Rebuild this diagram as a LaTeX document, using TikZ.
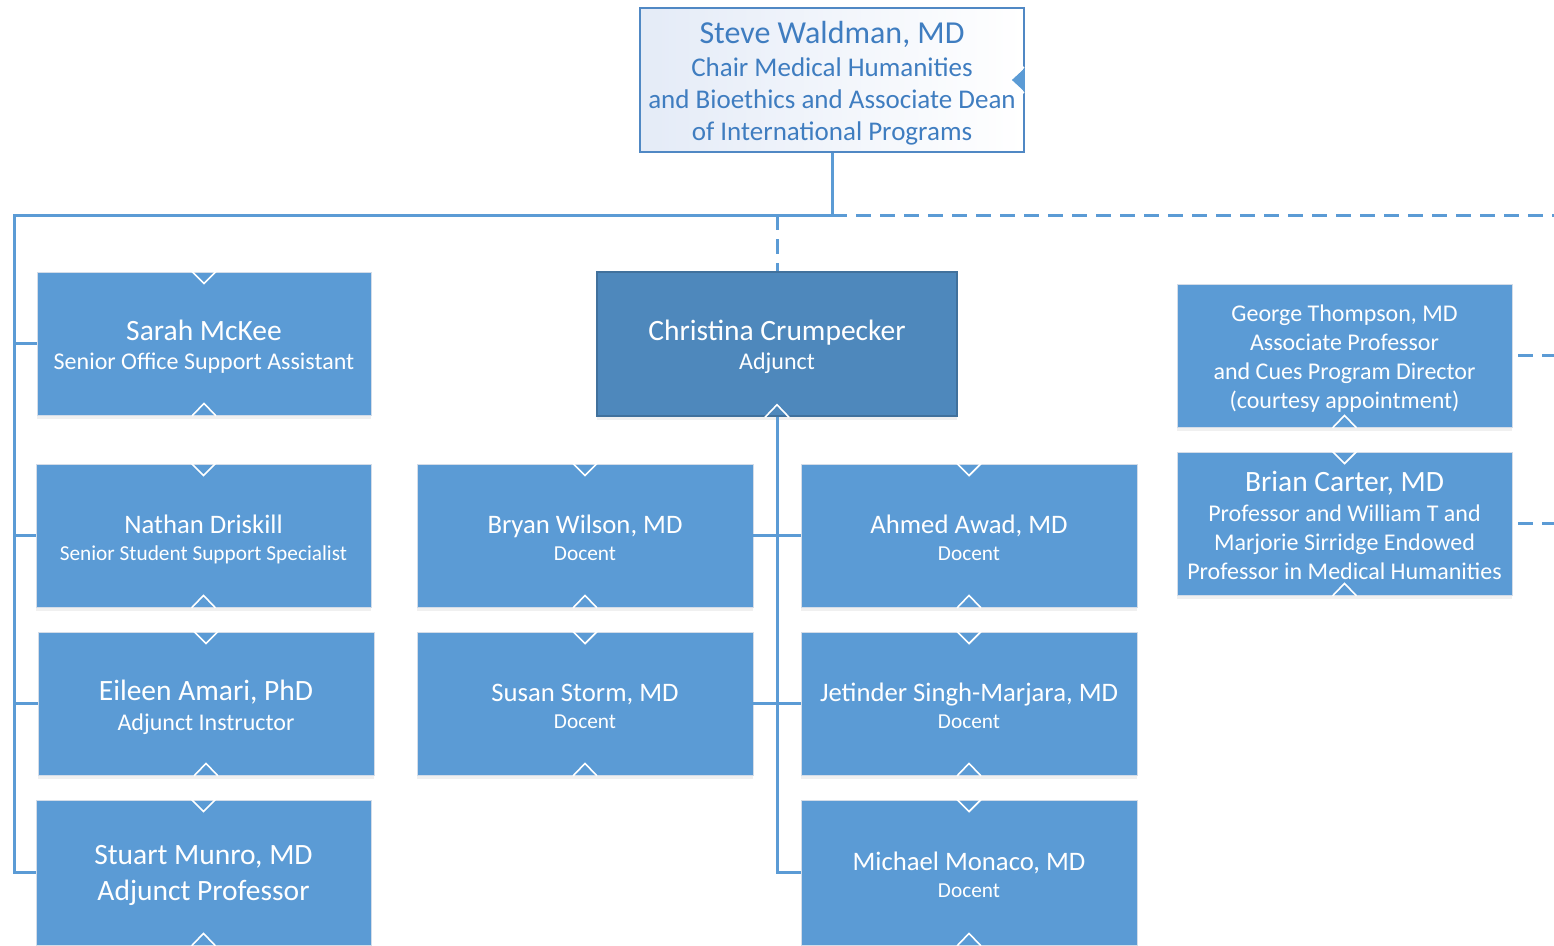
\documentclass[tikz,border=0pt]{standalone}
\usepackage{fontspec}
\setmainfont{Carlito}
\usetikzlibrary{shadows}
\definecolor{boxblue}{HTML}{5B9BD5}
\definecolor{darkbox}{HTML}{4E88BC}
\definecolor{darkedge}{HTML}{41719C}
\definecolor{edgegray}{HTML}{D3DCE8}
\definecolor{linkblue}{HTML}{5B9BD5}
\definecolor{topedge}{HTML}{5088C4}
\definecolor{toptext}{HTML}{3F7DC0}
\definecolor{topshade}{HTML}{E4EBF7}
% text line: size, depth, total strut height, text
\newcommand{\tl}[4]{{\fontsize{#1pt}{#1pt}\selectfont\rule[-#2pt]{0pt}{#3pt}#4}}
\newcommand{\nmA}[1]{\tl{29.5}{7}{35}{#1}}
\newcommand{\nmB}[1]{\tl{26.7}{7}{35}{#1}}
\newcommand{\subA}[1]{\tl{24}{6}{27}{#1}}
\newcommand{\subB}[1]{\tl{21.3}{5}{24}{#1}}
\tikzset{
  pbox/.style={draw=edgegray, line width=0.8pt, fill=boxblue, text=white, align=center,
     inner sep=0pt, minimum width=335pt, minimum height=143pt,
     font=\fontsize{1pt}{1pt}\selectfont,
     drop shadow={opacity=0.12, shadow xshift=0pt, shadow yshift=-4pt}},
  link/.style={draw=linkblue, line width=3pt},
  dlink/.style={draw=linkblue, line width=3pt, dash pattern=on 15pt off 9pt},
  notch/.style={draw=white, line width=1.6pt, line join=miter},
}
\begin{document}
\begin{tikzpicture}[x=1pt,y=-1pt]
\useasboundingbox (0,0) rectangle (1554,945);

% top box
\node[draw=topedge, line width=1.8pt, left color=topshade, right color=white,
      minimum width=384pt, minimum height=144pt, inner sep=0pt, align=center, text=toptext,
      font=\fontsize{1pt}{1pt}\selectfont]
  (steve) at (832,80)
  {\tl{32}{8}{38}{Steve Waldman, MD}\\
   \tl{27}{7}{31}{Chair Medical Humanities}\\
   \tl{27}{7}{31}{and Bioethics and Associate Dean}\\
   \tl{27}{7}{31}{of International Programs}};

% left column
\node[pbox, minimum width=334pt] (sarah) at (204,343.5)
  {\nmA{Sarah McKee}\\\tl{24}{6}{27}{Senior Office Support Assistant}};
\node[pbox] (nathan) at (203.5,535.5)
  {\nmB{Nathan Driskill}\\\subB{Senior Student Support Specialist}};
\node[pbox, minimum width=336pt] (eileen) at (206,703.5)
  {\tl{29.5}{7}{37}{Eileen Amari, PhD}\\\tl{24}{6}{28}{Adjunct Instructor}};
\node[pbox, minimum height=145pt] (stuart) at (203.5,872.5)
  {\tl{29.5}{7}{33}{Stuart Munro, MD}\\\tl{29.5}{7}{35}{Adjunct Professor}};

% Christina
\node[pbox, fill=darkbox, draw=darkedge, line width=1.5pt, minimum width=360pt, minimum height=144pt]
  (christina) at (777,344)
  {\nmA{Christina Crumpecker}\\\subA{Adjunct}};

% middle columns
\node[pbox, minimum width=336pt] (bryan) at (585,535.5)
  {\nmB{Bryan Wilson, MD}\\\subB{Docent}};
\node[pbox, minimum width=336pt] (susan) at (585,703.5)
  {\nmB{Susan Storm, MD}\\\subB{Docent}};
\node[pbox, minimum width=336pt] (ahmed) at (969,535.5)
  {\nmB{Ahmed Awad, MD}\\\subB{Docent}};
\node[pbox, minimum width=336pt] (jetinder) at (969,703.5)
  {\nmB{Jetinder Singh-Marjara, MD}\\\subB{Docent}};
\node[pbox, minimum width=336pt, minimum height=145pt] (michael) at (969,872.5)
  {\nmB{Michael Monaco, MD}\\\subB{Docent}};

% right column
\node[pbox] (george) at (1344.5,355.5)
  {\tl{24}{6}{30}{George Thompson, MD}\\
   \tl{24}{6}{28}{Associate Professor}\\
   \tl{24}{6}{28}{and Cues Program Director}\\
   \tl{24}{6}{28}{(courtesy appointment)}};
\node[pbox] (brian) at (1344.5,523.5)
  {\tl{29.5}{7}{36}{Brian Carter, MD}\\
   \tl{24}{6}{28}{Professor and William T and}\\
   \tl{24}{6}{28}{Marjorie Sirridge Endowed}\\
   \tl{24}{6}{28}{Professor in Medical Humanities}};

% coordinates
\coordinate (hub) at (832,215);
\coordinate (ltop) at (14,215);
\coordinate (lbot) at (14,872.5);
\coordinate (rend) at (1554,215);
\coordinate (ctop) at (777,215);
\coordinate (cbot) at (777,872.5);
\coordinate (gend) at (1554,355.5);
\coordinate (bend) at (1554,523.5);

% connectors
\draw[link] (steve.south) -- (hub) -- (ltop) -- (lbot) -- (stuart.west);
\draw[link] (sarah.west -| ltop) -- (sarah.west);
\draw[link] (nathan.west -| ltop) -- (nathan.west);
\draw[link] (eileen.west -| ltop) -- (eileen.west);
\draw[dlink] (hub) -- (rend);
\draw[dlink] (ctop) -- (christina.north);
\draw[link] (christina.south) -- (cbot) -- (michael.west);
\draw[link] (bryan.east) -- (ahmed.west);
\draw[link] (susan.east) -- (jetinder.west);
\draw[dlink] ([xshift=6pt]george.east) -- (gend);
\draw[dlink] ([xshift=6pt]brian.east) -- (bend);

% notches
\foreach \n in {sarah,nathan,eileen,stuart,bryan,susan,ahmed,jetinder,michael,brian}
  \draw[notch] ([xshift=-12pt]\n.north) -- ([yshift=-12pt]\n.north) -- ([xshift=12pt]\n.north);
\foreach \n in {sarah,nathan,eileen,stuart,bryan,susan,ahmed,jetinder,michael,george,brian,christina}
  \draw[notch] ([xshift=-12pt,yshift=-0.5pt]\n.south) -- ([yshift=12pt]\n.south) -- ([xshift=12pt,yshift=-0.5pt]\n.south);
\fill[boxblue] ([yshift=-12pt]steve.east) -- ([xshift=-13pt]steve.east) -- ([yshift=12pt]steve.east) -- cycle;
\draw[notch] ([yshift=-13pt,xshift=-0.9pt]steve.east) -- ([xshift=-15pt]steve.east) -- ([yshift=13pt,xshift=-0.9pt]steve.east);
\end{tikzpicture}
\end{document}
